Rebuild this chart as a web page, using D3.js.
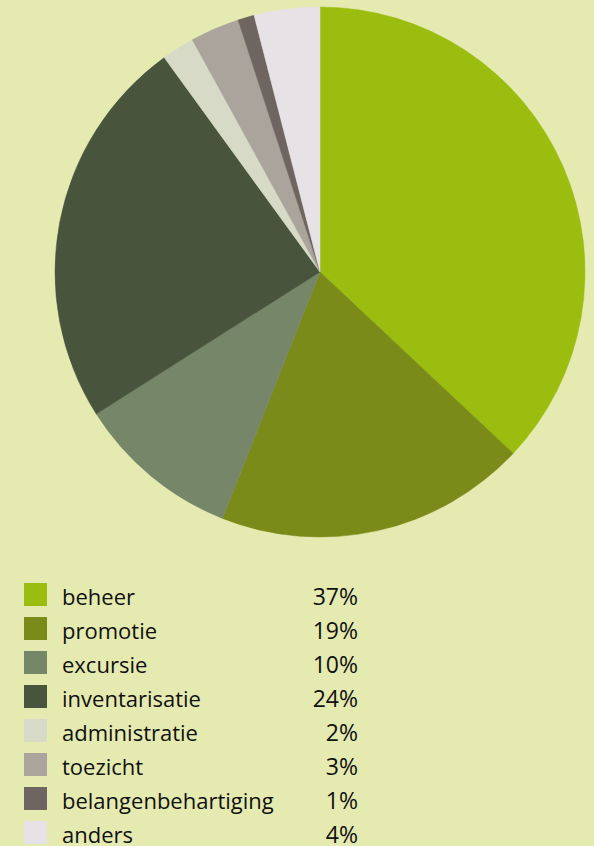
<!DOCTYPE html>
<html>
<head>
<meta charset="utf-8">
<script src="https://cdn.jsdelivr.net/npm/d3@7"></script>
<style>
  html, body { margin: 0; padding: 0; background: #e4eab0; }
  svg { display: block; }
</style>
</head>
<body>
<div id="chart"></div>
<script>
// data
categories = ['beheer', 'promotie', 'excursie', 'inventarisatie', 'administratie', 'toezicht', 'belangenbehartiging', 'anders'];
percentages = [37, 19, 10, 24, 2, 3, 1, 4];
sliceColors = ['#9abd10', '#7a8b19', '#768669', '#48553c', '#d6dac6', '#aaa49d', '#6e6560', '#e7e2e6'];

width = 594;
height = 846;
center = ({x: 320, y: 272});
radius = 265;

const svg = d3.select('#chart').append('svg')
    .attr('width', width)
    .attr('height', height)
    .attr('viewBox', [0, 0, width, height]);

svg.append('rect')
    .attr('width', width)
    .attr('height', height)
    .attr('fill', '#e4eab0');

const color = d3.scaleOrdinal().domain(categories).range(sliceColors);

const pie = d3.pie()
    .value(d => d.value)
    .sort(null);

const arc = d3.arc()
    .innerRadius(0)
    .outerRadius(radius);

const rows = categories.map((c, i) => ({name: c, value: percentages[i]}));

// Pie
svg.append('g')
    .attr('transform', `translate(${center.x},${center.y})`)
    .selectAll('path')
    .data(pie(rows))
    .join('path')
    .attr('d', arc)
    .attr('fill', d => color(d.data.name))
    .attr('stroke', d => color(d.data.name))
    .attr('stroke-width', 0.5);

// Legend
const rowY = d3.scalePoint()
    .domain(categories)
    .range([583, 583 + 34 * (categories.length - 1)]);

const legend = svg.append('g')
    .attr('font-family', '"Open Sans", sans-serif')
    .attr('font-size', 22)
    .attr('fill', '#111')
    .selectAll('g')
    .data(rows)
    .join('g')
    .attr('transform', d => `translate(0,${rowY(d.name)})`);

legend.append('rect')
    .attr('x', 24)
    .attr('width', 23)
    .attr('height', 23)
    .attr('fill', d => color(d.name));

legend.append('text')
    .attr('x', 62)
    .attr('y', 22)
    .text(d => d.name);

legend.append('text')
    .attr('x', 358)
    .attr('y', 22)
    .attr('text-anchor', 'end')
    .attr('font-size', 23)
    .text(d => d.value + '%');
</script>
</body>
</html>
